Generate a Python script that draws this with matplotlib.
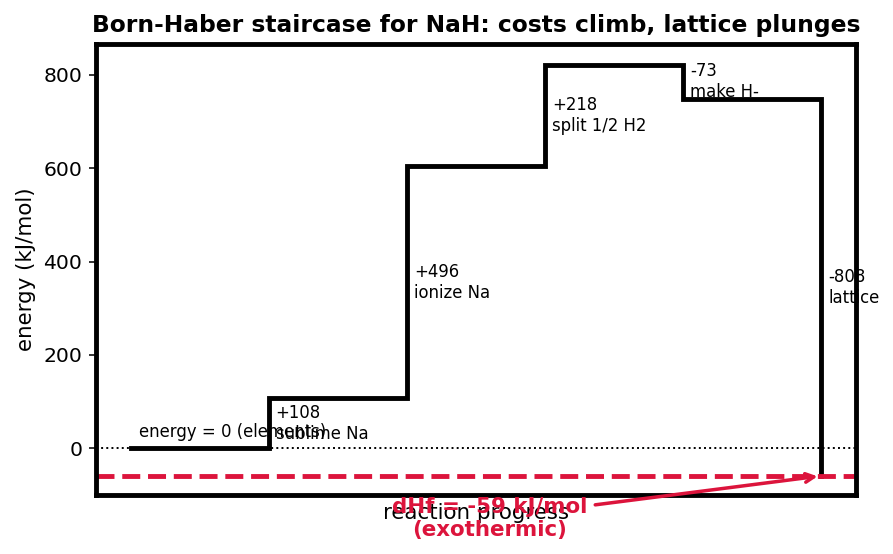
import matplotlib
matplotlib.use("Agg")
from matplotlib import pyplot as plt

# Born-Haber cycle for NaH, kJ/mol
steps = ["sublime Na", "ionize Na", "split 1/2 H2", "make H-", "lattice"]
deltas = [108, 496, 218, -73, -808]
dHf = -59

# running energy levels
levels = [0]
for d in deltas:
    levels.append(levels[-1] + d)

fig = plt.figure(figsize=(893 / 140, 554 / 140), dpi=140)
ax = fig.add_axes([96 / 893, 59 / 554, 760 / 893, 451 / 554])

# staircase: flat run at each level, then a jump at the next x
xs = [0]
ys = [levels[0]]
for i in range(len(deltas)):
    xs.append(i + 1)
    ys.append(levels[i])
    xs.append(i + 1)
    ys.append(levels[i + 1])
ax.plot(xs, ys, color="black", lw=2.5, solid_joinstyle="miter")

for i, d in enumerate(deltas):
    mid = (levels[i] + levels[i + 1]) / 2
    sign = "+" if d > 0 else ""
    ax.text(i + 1 + 0.05, mid, "%s%d\n%s" % (sign, d, steps[i]),
            ha="left", va="center", fontsize=8.5)

ax.axhline(0, color="black", ls=":", lw=1)
ax.text(0.06, 15, "energy = 0 (elements)", fontsize=8.5, va="bottom")

ax.axhline(dHf, color="crimson", ls="--", lw=2.5)
ax.annotate("dHf = %d kJ/mol\n(exothermic)" % dHf, xy=(5, dHf), xytext=(2.6, -150),
            ha="center", va="center", color="crimson", fontweight="bold", fontsize=11,
            annotation_clip=False,
            arrowprops=dict(arrowstyle="->", color="crimson", lw=1.8))

ax.set_xlim(-0.25, 5.25)
ax.set_ylim(-100, 866)
ax.set_xticks([])
ax.set_yticks([0, 200, 400, 600, 800])
ax.tick_params(labelsize=10.5)
ax.set_xlabel("reaction progress", fontsize=11, labelpad=4)
ax.set_ylabel("energy (kJ/mol)", fontsize=11)
ax.set_title("Born-Haber staircase for NaH: costs climb, lattice plunges",
             fontweight="bold", fontsize=12)
for s in ax.spines.values():
    s.set_linewidth(2.5)

plt.savefig("out.png", dpi=140)
